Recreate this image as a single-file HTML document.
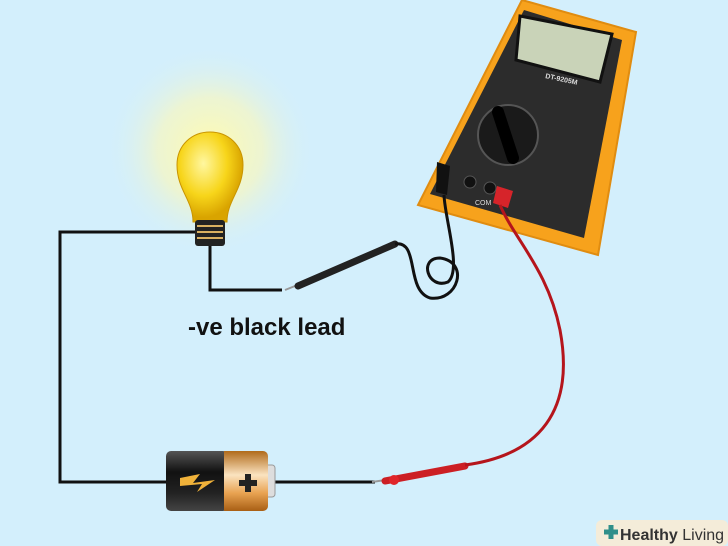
<!DOCTYPE html>
<html><head><style>
html,body{margin:0;padding:0;background:#d3effc;}
svg{display:block}
</style></head><body>
<svg width="728" height="546" viewBox="0 0 728 546" xmlns="http://www.w3.org/2000/svg">
<defs>
<radialGradient id="glow" cx="0.5" cy="0.5" r="0.5">
<stop offset="0" stop-color="#fffbb0"/><stop offset="0.5" stop-color="#f3f6c8" stop-opacity="0.8"/><stop offset="1" stop-color="#d3effc" stop-opacity="0"/>
</radialGradient>
<radialGradient id="bulb" cx="0.4" cy="0.35" r="0.6">
<stop offset="0" stop-color="#fff7a0"/><stop offset="0.6" stop-color="#f7d51a"/><stop offset="1" stop-color="#d9a400"/>
</radialGradient>
<linearGradient id="batk" x1="0" y1="0" x2="0" y2="1"><stop offset="0" stop-color="#555"/><stop offset="0.35" stop-color="#111"/><stop offset="0.7" stop-color="#222"/><stop offset="1" stop-color="#444"/></linearGradient>
<linearGradient id="batg" x1="0" y1="0" x2="0" y2="1"><stop offset="0" stop-color="#b06a1a"/><stop offset="0.4" stop-color="#fbe3c0"/><stop offset="0.7" stop-color="#e9a352"/><stop offset="1" stop-color="#a85f14"/></linearGradient>
</defs>
<rect width="728" height="546" fill="#d3effc"/>
<circle cx="210" cy="150" r="105" fill="url(#glow)"/>
<polyline points="200,232 60,232 60,482 168,482" fill="none" stroke="#111" stroke-width="3"/>
<polyline points="210,245 210,290 282,290" fill="none" stroke="#111" stroke-width="3"/>
<line x1="270" y1="482" x2="375" y2="482" stroke="#111" stroke-width="3"/>
<path d="M193,222 C193,200 177,190 177,165 C177,145 192,132 210,132 C228,132 243,145 243,165 C243,190 227,200 227,222 Z" fill="url(#bulb)" stroke="#c99400" stroke-width="1"/>
<rect x="195" y="220" width="30" height="26" rx="3" fill="#222"/>
<path d="M197,226h26M197,232h26M197,238h26" stroke="#d9b060" stroke-width="2"/>
<path d="M588,112 L612,160 L604,166 L580,125Z" fill="#333"/>
<polygon points="522,0 636,32 598,255 418,205" fill="#f7a21c" stroke="#e08c10" stroke-width="2"/>
<polygon points="524,10 622,40 584,238 430,194" fill="#2c2c2c"/>
<polygon points="520,16 612,34 600,82 516,60" fill="#c9d3b8" stroke="#111" stroke-width="3"/>
<text x="545" y="78" font-family="Liberation Sans,sans-serif" font-size="7" font-weight="bold" fill="#ddd" transform="rotate(12 545 78)">DT-9205M</text>
<circle cx="508" cy="135" r="30" fill="#1a1a1a" stroke="#555" stroke-width="2"/>
<path d="M498,112 L513,158" stroke="#000" stroke-width="12" stroke-linecap="round"/>
<circle cx="470" cy="182" r="6" fill="#111" stroke="#555"/>
<circle cx="490" cy="188" r="6" fill="#111" stroke="#555"/>
<path d="M437,162 L450,166 L447,195 L436,192Z" fill="#111"/>
<path d="M497,186 L513,191 L508,208 L493,203Z" fill="#d6242a"/>
<text x="475" y="205" font-family="Liberation Sans,sans-serif" font-size="7" fill="#ddd">COM</text>
<path d="M285,290 L300,284" stroke="#999" stroke-width="2"/>
<path d="M298,286 L395,244" stroke="#222" stroke-width="7" stroke-linecap="round"/>
<path d="M395,244 C420,240 405,290 430,298 C458,302 470,262 440,258 C418,258 428,290 448,282 C462,270 445,220 444,195" fill="none" stroke="#111" stroke-width="3"/>
<path d="M372,482 L385,480" stroke="#999" stroke-width="2"/>
<path d="M385,481 L465,466" stroke="#cc1f24" stroke-width="7" stroke-linecap="round"/>
<circle cx="394" cy="480" r="5" fill="#e0252a"/>
<path d="M465,465 C540,455 575,410 560,330 C548,270 515,240 500,205" fill="none" stroke="#b5151c" stroke-width="3"/>
<rect x="265" y="465" width="10" height="32" rx="3" fill="#ddd" stroke="#999"/>
<rect x="166" y="451" width="62" height="60" rx="5" fill="url(#batk)"/>
<rect x="228" y="451" width="40" height="60" rx="5" fill="url(#batg)"/>
<rect x="224" y="451" width="10" height="60" fill="url(#batg)"/>
<path d="M180,478 L200,474 L193,483 L215,480 L197,492 L202,484 L180,486Z" fill="#f0b23a"/>
<path d="M245,474h6v6h6v6h-6v6h-6v-6h-6v-6h6z" fill="#222"/>
<text x="188" y="335" font-family="Liberation Sans,sans-serif" font-size="24" font-weight="bold" fill="#111">-ve black lead</text>
<rect x="596" y="520" width="132" height="26" rx="6" fill="#f4ecd9"/>
<path d="M604,532h14M611,525v14" stroke="#2f8f8a" stroke-width="5"/>
<text x="620" y="540" font-family="Liberation Sans,sans-serif" font-size="16" fill="#333"><tspan font-weight="bold">Healthy</tspan> Living</text>
</svg>
</body></html>
